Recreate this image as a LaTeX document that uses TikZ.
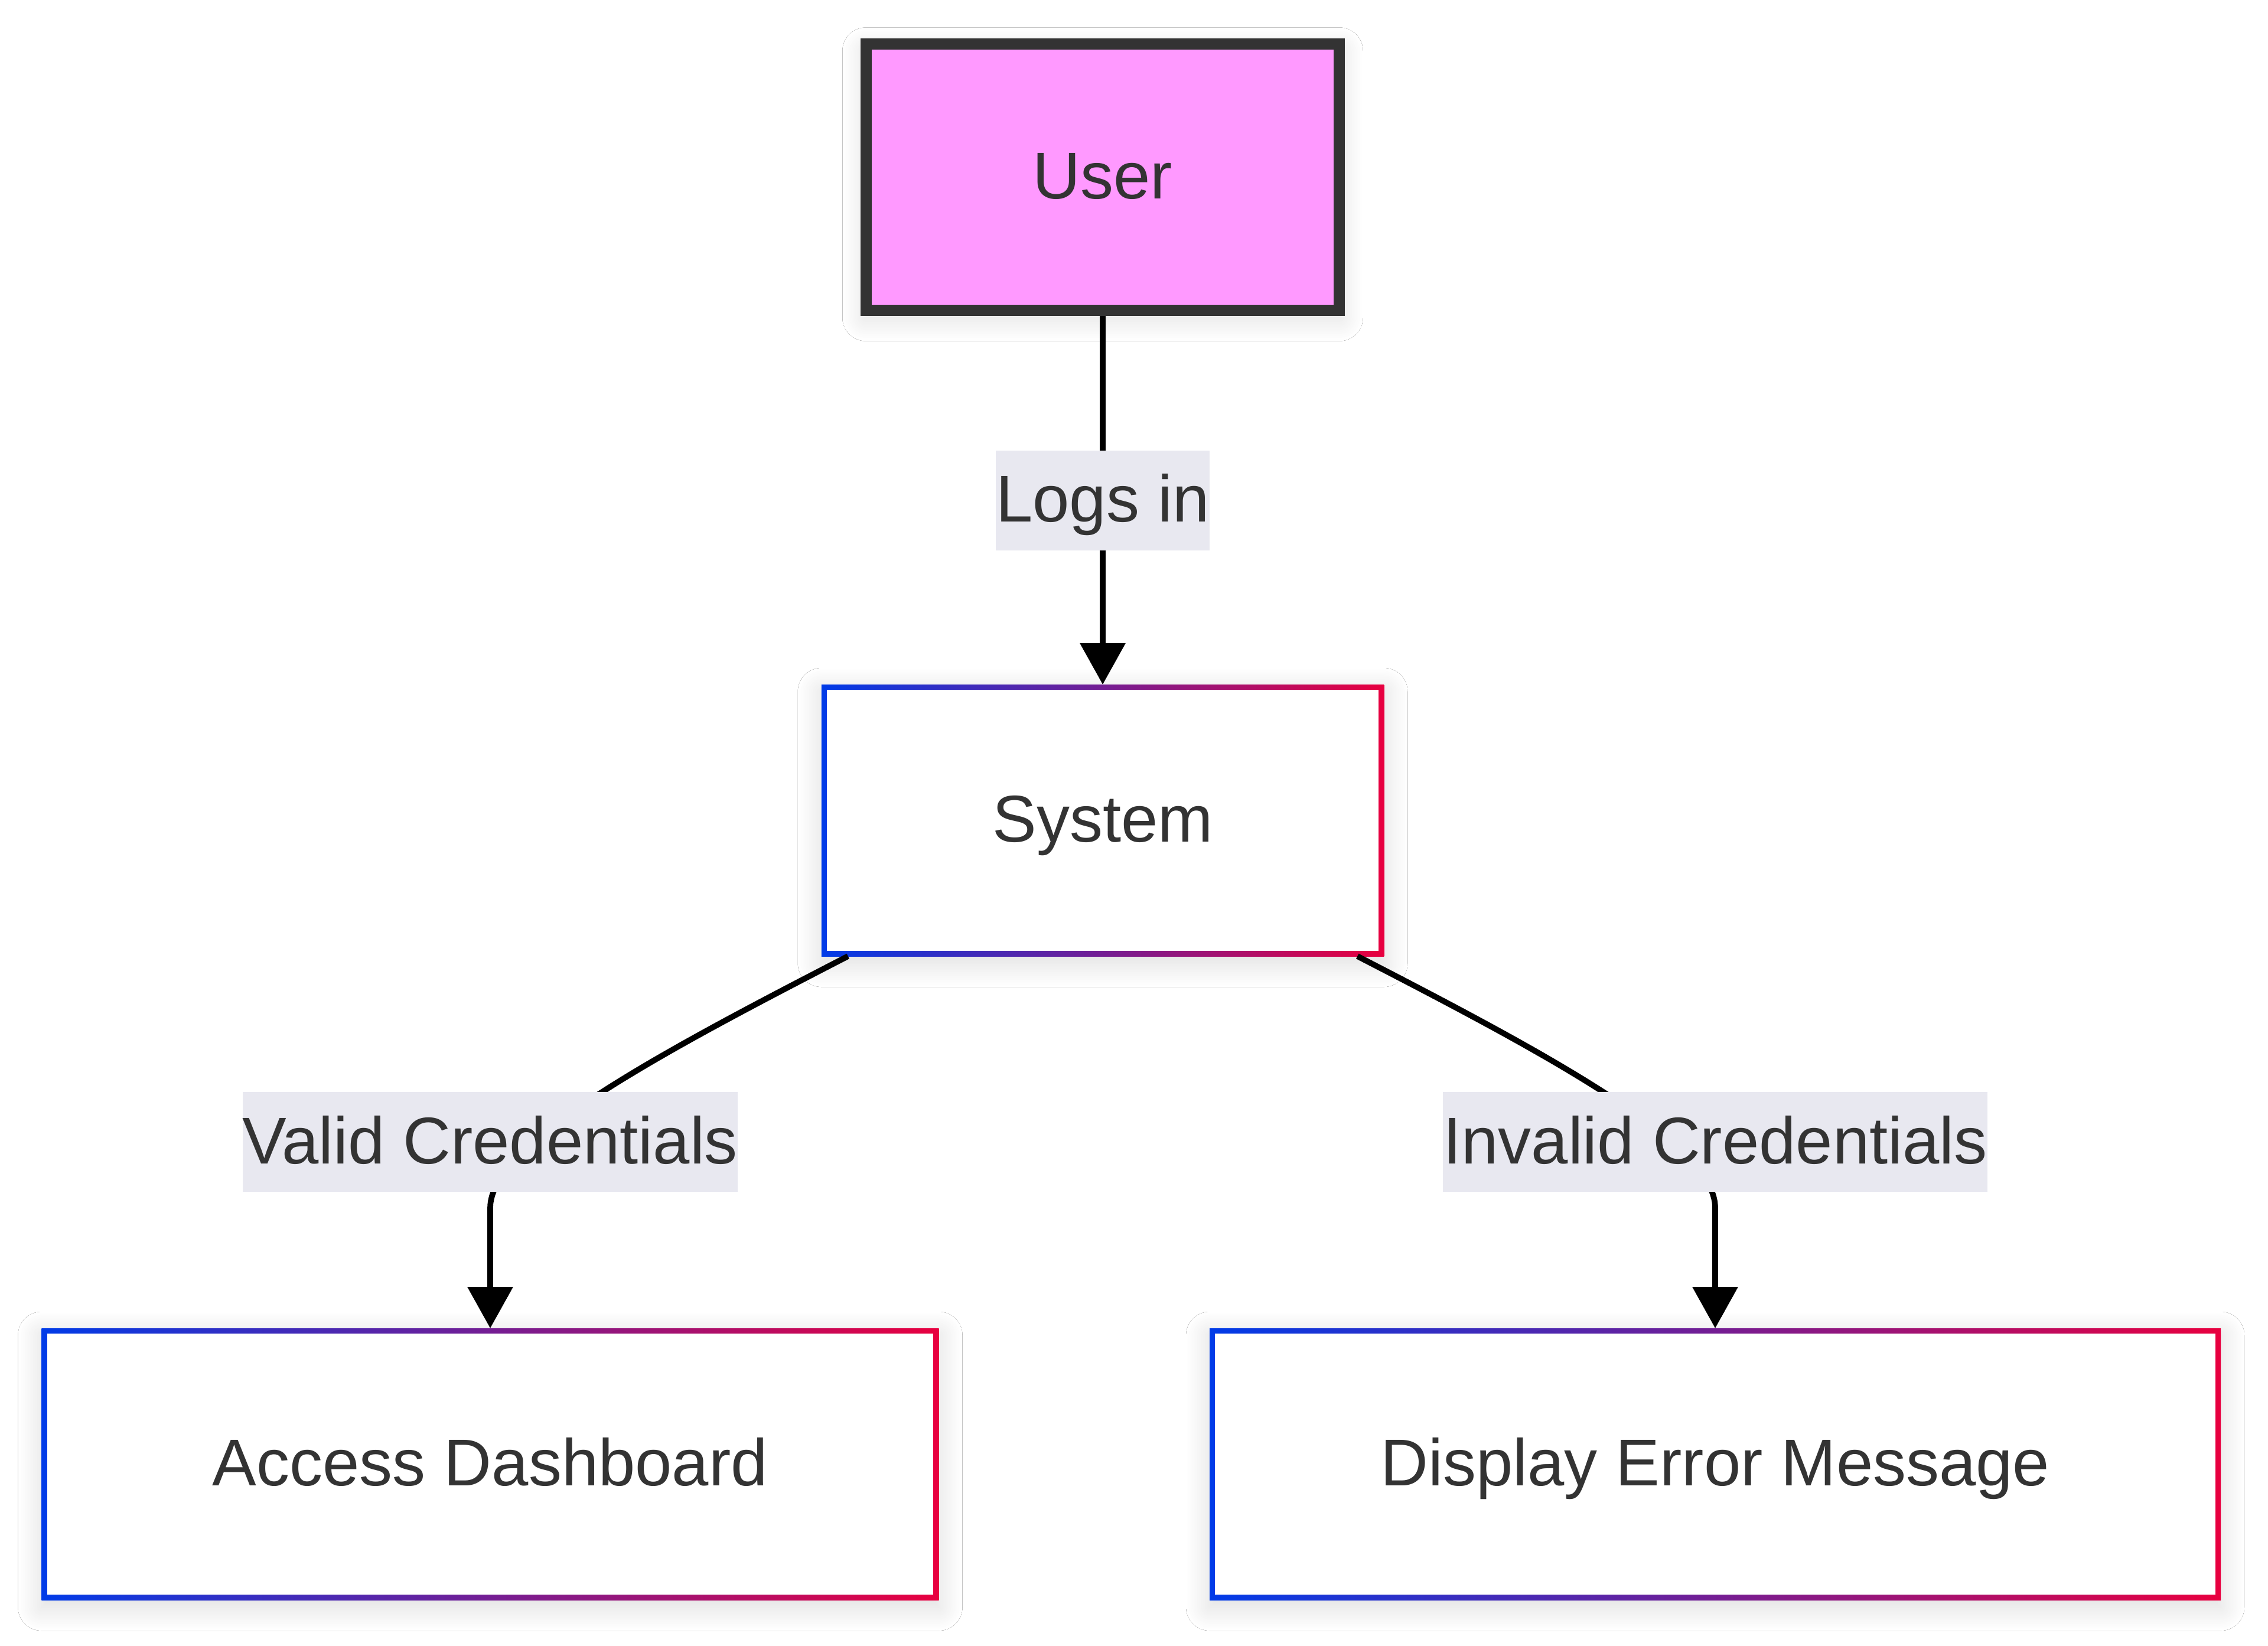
\documentclass[tikz,border=0pt]{standalone}
\usepackage{fontspec}
\setmainfont{Liberation Sans}
\usetikzlibrary{positioning}
\usetikzlibrary{arrows.meta}
\usetikzlibrary{shadows.blur}
\definecolor{txtgray}{HTML}{333333}
\definecolor{userpink}{HTML}{FF99FF}
\definecolor{lblbg}{HTML}{E8E8F0}
\definecolor{bordblue}{HTML}{003BE8}
\definecolor{bordred}{HTML}{E8003F}
\tikzstyle{arrow} = [line width=0.097cm,-{Triangle[length=0.70cm,width=0.75cm]}]
\tikzstyle{boxshadow} = [blur shadow={shadow xshift=0cm,shadow yshift=-0.12cm,shadow blur radius=0.4cm,shadow blur steps=30,shadow opacity=14}]
\tikzstyle{userbox} = [boxshadow,draw=txtgray,line width=0.19cm,fill=userpink,inner xsep=2.825cm,inner ysep=0cm,minimum height=4.51cm,text height=0.896cm,text depth=0.168cm]
\tikzstyle{gradbox} = [boxshadow,inner xsep=2.895cm,inner ysep=0cm,minimum height=4.60cm,outer sep=0cm,text height=0.896cm,text depth=0.168cm,
  path picture={\shade[left color=bordblue,right color=bordred] (path picture bounding box.south west) rectangle (path picture bounding box.north east);
    \fill[white] ([shift={(0.093cm,0.093cm)}]path picture bounding box.south west) rectangle ([shift={(-0.093cm,-0.093cm)}]path picture bounding box.north east);}]
\tikzstyle{edgelbl} = [fill=lblbg,inner xsep=0cm,inner ysep=0cm,minimum height=1.69cm,text height=0.896cm,text depth=0.168cm]

\begin{document}
\begin{tikzpicture}[every node/.style={font=\fontsize{31.87}{38}\selectfont,text=txtgray}]
	\path[use as bounding box,fill=white] (0,0) rectangle (38.40,-27.86);

	%Nodes
	\node[userbox] (user) at (18.67,-3.00) {User};
	\node[gradbox, below=6.24cm of user] (system) {System};
	\node[gradbox, below=6.30cm of system, xshift=-10.37cm] (access) {Access Dashboard};
	\node[gradbox, below=6.30cm of system, xshift=10.37cm] (error) {Display Error Message};

	%Lines
	\draw[arrow] (user) -- node[edgelbl] (logsin) {Logs in} (system);
	\draw[arrow] ([xshift=0.45cm]system.south west) .. controls +(-3.1,-1.6) and +(0,1.1) .. ([yshift=2.04cm]access.north) -- (access);
	\draw[arrow] ([xshift=-0.45cm]system.south east) .. controls +(3.1,-1.6) and +(0,1.1) .. ([yshift=2.04cm]error.north) -- (error);

	%Edge labels
	\node[edgelbl, above=2.30cm of access] (valid) {Valid Credentials};
	\node[edgelbl, above=2.30cm of error] (invalid) {Invalid Credentials};
\end{tikzpicture}
\end{document}
